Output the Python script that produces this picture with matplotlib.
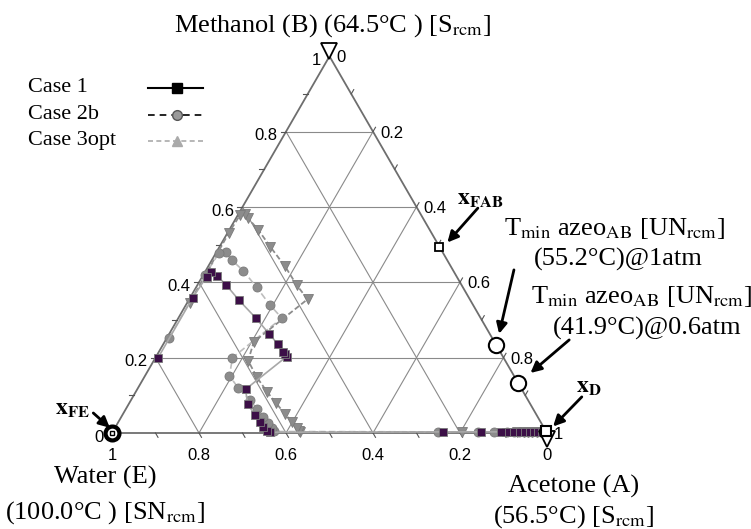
import numpy as np
import matplotlib.pyplot as plt
from matplotlib.transforms import offset_copy

plt.rcParams['mathtext.fontset'] = 'stix'
serif = ['Liberation Serif', 'DejaVu Serif']
sans = ['Liberation Sans', 'DejaVu Sans']

# Column profiles as (acetone A, methanol B) mole fractions, water E = 1 - A - B
case1_a = [0.995, 0.987, 0.978, 0.969, 0.960, 0.950, 0.940, 0.929, 0.918, 0.905, 0.893, 0.847, 0.760,
           0.363, 0.353, 0.339, 0.325, 0.305, 0.274, 0.249,
           0.300, 0.293, 0.286, 0.263, 0.230, 0.177, 0.115, 0.066, 0.032, 0.014, 0.010, 0.006, 0.006]
case1_b = [0.003, 0.003, 0.003, 0.003, 0.003, 0.003, 0.003, 0.003, 0.003, 0.003, 0.003, 0.003, 0.003,
           0.002, 0.005, 0.017, 0.030, 0.048, 0.076, 0.116,
           0.203, 0.209, 0.216, 0.236, 0.263, 0.306, 0.353, 0.393, 0.418, 0.428, 0.415, 0.359, 0.198]

case2_a = [0.995, 0.985, 0.975, 0.965, 0.955, 0.945, 0.935, 0.922, 0.907, 0.876, 0.840, 0.748,
           0.371, 0.360, 0.346, 0.326, 0.301, 0.273, 0.231, 0.194, 0.177,
           0.238, 0.193, 0.139, 0.086, 0.046, 0.021, 0.007, 0.004, 0.005]
case2_b = [0.003, 0.003, 0.003, 0.003, 0.003, 0.003, 0.003, 0.003, 0.003, 0.003, 0.003, 0.003,
           0.004, 0.014, 0.027, 0.043, 0.064, 0.088, 0.119, 0.152, 0.200,
           0.305, 0.340, 0.387, 0.431, 0.459, 0.481, 0.479, 0.419, 0.253]

case3_a = [0.995, 0.985, 0.975, 0.965, 0.955, 0.945, 0.930, 0.804,
           0.432, 0.427, 0.418, 0.398, 0.373, 0.338, 0.301, 0.259, 0.217, 0.205,
           0.272, 0.228, 0.177, 0.116, 0.067, 0.028, 0.015, 0.005, 0.003, 0.006]
case3_b = [0.003, 0.003, 0.003, 0.003, 0.003, 0.003, 0.003, 0.003,
           0.002, 0.004, 0.013, 0.030, 0.050, 0.079, 0.110, 0.148, 0.192, 0.242,
           0.355, 0.393, 0.442, 0.495, 0.539, 0.570, 0.581, 0.579, 0.530, 0.346]

# Special compositions (A, B)
x_fe = (0.0, 0.0)
x_fab = (0.505, 0.495)
azeo_1atm = (0.766, 0.234)
azeo_06atm = (0.866, 0.134)
x_d = (0.995, 0.005)

tick_vals = np.round(np.arange(0, 1.01, 0.2), 1)


def tern(a, b):
    a = np.asarray(a, dtype=float)
    b = np.asarray(b, dtype=float)
    return a + b / 2, b * np.sqrt(3) / 2


fig = plt.figure(figsize=(7.51, 5.29), dpi=100)
ax = fig.add_axes([0, 0, 1, 1])
ax.set_xlim(-112 / 435, 639 / 435)
ax.set_ylim(-96 / 435, 433 / 435)
ax.axis('off')

# grid lines
grid_kw = dict(color='#8a8a8a', lw=0.8, zorder=1)
for v in tick_vals[1:-1]:
    ax.plot(*tern([0, 1 - v], [v, v]), **grid_kw)
    ax.plot(*tern([v, v], [0, 1 - v]), **grid_kw)
    ax.plot(*tern([1 - v, 0], [0, 1 - v]), **grid_kw)

# triangle frame
ax.plot(*tern([0, 1, 0, 0], [0, 0, 1, 0]), color='#6e6e6e', lw=1.3, zorder=2)

# tick marks
L = 5 / 435
for v in np.round(np.arange(0.1, 1.0, 0.1), 1):
    x, y = tern(0, v)
    ax.plot([x, x - L], [y, y], color='#555555', lw=0.8)
    x, y = tern(v, 0)
    ax.plot([x, x + 0.5 * L], [y, y - 0.866 * L], color='#555555', lw=0.8)
    x, y = tern(v, 1 - v)
    ax.plot([x, x + 0.5 * L], [y, y + 0.866 * L], color='#555555', lw=0.8)

# tick labels
for v in tick_vals:
    lab = f'{v:g}'
    ax.annotate(f'{1 - v:g}', tern(v, 0), xytext=(0, -16), textcoords='offset points',
                ha='center', va='center', fontsize=12, family=sans)
    ax.annotate(lab, tern(0, v), xytext=(-6, -3), textcoords='offset points',
                ha='right', va='center', fontsize=12, family=sans)
    ax.annotate(lab, tern(v, 1 - v), xytext=(5, -1), textcoords='offset points',
                ha='left', va='center', fontsize=12, family=sans)

# column profiles
ax.plot(*tern(case1_a, case1_b), color='#a8a8a8', lw=1.2, ls='-', marker='s', ms=6,
        mfc='#3c0f47', mec='#7a7a7a', mew=0.6, zorder=4)
ax.plot(*tern(case2_a, case2_b), color='#bdbdbd', lw=1.2, ls=(0, (4, 2)), marker='o', ms=6.5,
        mfc='#8c8c8c', mec='#7a7a7a', mew=0.6, zorder=3)
ax.plot(*tern(case3_a, case3_b), color='#8c8c8c', lw=1.3, ls=(0, (3, 1.5)), marker='v', ms=6.5,
        mfc='#8c8c8c', mec='#7a7a7a', mew=0.6, zorder=3)

# singular points
up = offset_copy(ax.transData, fig=fig, x=0, y=4, units='points')
down = offset_copy(ax.transData, fig=fig, x=0, y=-4, units='points')
ax.plot(*tern(0, 1), marker='v', ms=11, mfc='white', mec='black', mew=1.3, transform=up, zorder=6)
ax.plot(*tern(1, 0), marker='v', ms=11, mfc='white', mec='black', mew=1.3, transform=down, zorder=6)
ax.plot(*tern(*x_fe), marker='o', ms=10, mfc='white', mec='black', mew=3, zorder=7)
ax.plot(*tern(*x_fe), marker='s', ms=3.5, mfc='white', mec='black', mew=1, zorder=8)
ax.plot(*tern(*x_fab), marker='s', ms=6, mfc='white', mec='black', mew=1.3, zorder=7)
ax.plot(*tern(*azeo_1atm), marker='o', ms=11, mfc='white', mec='black', mew=1.5, zorder=7)
ax.plot(*tern(*azeo_06atm), marker='o', ms=11, mfc='white', mec='black', mew=1.5, zorder=7)
ax.plot(*tern(*x_d), marker='s', ms=7, mfc='white', mec='black', mew=1.5, zorder=7)

# annotations
arrow = dict(arrowstyle='-|>', color='black', lw=2, mutation_scale=16, shrinkA=0, shrinkB=0)
ax.annotate('', xy=(-0.005, 0.012), xytext=(-0.043, 0.046), arrowprops=arrow)
ax.text(-0.092, 0.057, r'$\mathbf{x_{FE}}$', fontsize=17, ha='center', va='center')
ax.annotate('', xy=(0.771, 0.438), xytext=(0.841, 0.517), arrowprops=arrow)
ax.text(0.847, 0.540, r'$\mathbf{x_{FAB}}$', fontsize=17, ha='center', va='center')
ax.annotate('', xy=(0.890, 0.228), xytext=(0.924, 0.375), arrowprops=arrow)
ax.annotate('', xy=(0.962, 0.138), xytext=(1.051, 0.214), arrowprops=arrow)
ax.annotate('', xy=(1.014, 0.015), xytext=(1.080, 0.083), arrowprops=arrow)
ax.text(1.096, 0.108, r'$\mathbf{x_{D}}$', fontsize=17, ha='center', va='center')

fs = 19
azeo_lab = r'T$_{\mathrm{min}}$ azeo$_{\mathrm{AB}}$ [UN$_{\mathrm{rcm}}$]'
ax.text(1.156, 0.471, azeo_lab, fontsize=fs, family=serif, ha='center', va='center')
ax.text(1.163, 0.398, '(55.2°C)@1atm', fontsize=fs, family=serif, ha='center', va='center')
ax.text(1.218, 0.313, azeo_lab, fontsize=fs, family=serif, ha='center', va='center')
ax.text(1.230, 0.241, '(41.9°C)@0.6atm', fontsize=fs, family=serif, ha='center', va='center')

# vertex labels
ax.text(0.506, 0.936, 'Methanol (B) (64.5°C ) [S$_{\\mathrm{rcm}}$]', fontsize=fs,
        family=serif, ha='center', va='center')
ax.text(-0.016, -0.103, 'Water (E)', fontsize=fs, family=serif, ha='center', va='center')
ax.text(-0.016, -0.184, '(100.0°C ) [SN$_{\\mathrm{rcm}}$]', fontsize=fs, family=serif,
        ha='center', va='center')
ax.text(1.060, -0.124, 'Acetone (A)', fontsize=fs, family=serif, ha='center', va='center')
ax.text(1.062, -0.193, '(56.5°C) [S$_{\\mathrm{rcm}}$]', fontsize=fs, family=serif,
        ha='center', va='center')

# legend (text first, line sample after)
legend_rows = [('Case 1', dict(color='black', ls='-', lw=1.5, marker='s', ms=7, mfc='black', mec='black')),
               ('Case 2b', dict(color='black', ls=(0, (4, 3)), lw=1.2, marker='o', ms=7, mfc='#999999', mec='#555555')),
               ('Case 3opt', dict(color='#aaaaaa', ls=(0, (3, 2)), lw=1.2, marker='^', ms=7, mfc='#aaaaaa', mec='#aaaaaa'))]
for i, (name, kw) in enumerate(legend_rows):
    yf = 1 - (88 + 26.5 * i) / 529
    ax.text(0.037, yf, name, transform=ax.transAxes, fontsize=16, family=serif, va='center')
    ax.plot([0.197, 0.270], [yf, yf], transform=ax.transAxes,
            **{k: v for k, v in kw.items() if k in ('ls', 'lw', 'color')})
    ax.plot([0.2357], [yf], transform=ax.transAxes, ls='none',
            **{k: v for k, v in kw.items() if k not in ('ls', 'lw', 'color')})

fig.savefig('out.png', dpi=100)
